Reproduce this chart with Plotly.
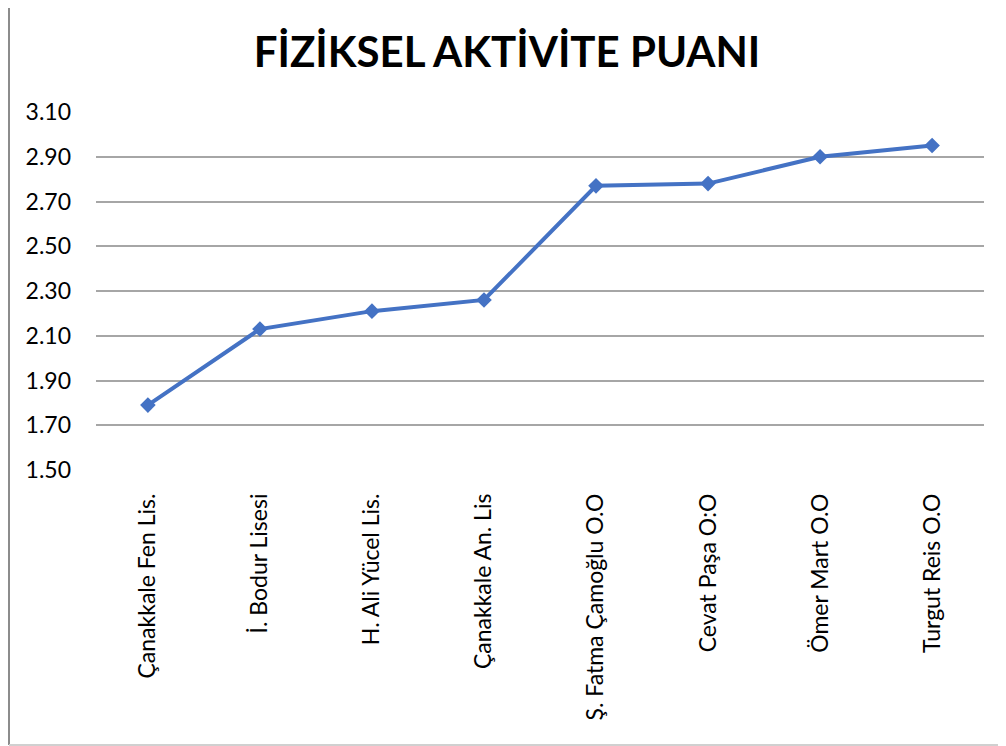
import plotly.graph_objects as go

# -------------------------------
# DATA
# -------------------------------
schools = [
    "Çanakkale Fen Lis.",
    "İ. Bodur Lisesi",
    "H. Ali Yücel Lis.",
    "Çanakkale An. Lis",
    "Ş. Fatma Çamoğlu O.O",
    "Cevat Paşa O:O",
    "Ömer Mart O.O",
    "Turgut Reis O.O",
]
scores = [1.79, 2.13, 2.21, 2.26, 2.77, 2.78, 2.90, 2.95]

y_ticks = [1.5, 1.7, 1.9, 2.1, 2.3, 2.5, 2.7, 2.9, 3.1]
y_labels = ["1.50", "1.70", "1.90", "2.10", "2.30", "2.50", "2.70", "2.90", "3.10"]

# -------------------------------
# FIGURE
# -------------------------------
fig = go.Figure()

fig.add_trace(go.Scatter(
    x=schools,
    y=scores,
    mode="lines+markers",
    line=dict(color="#4472C4", width=4),
    marker=dict(symbol="diamond", size=12, color="#4472C4"),
    showlegend=False
))

# page body has an 8px margin, so the figure is 8px smaller on each axis
W, H = 998, 738
L, R, T, B = 88, 22, 104, 276
pw, ph = W - L - R, H - T - B

fig.update_layout(
    width=W, height=H,
    margin=dict(l=L, r=R, t=T, b=B),
    paper_bgcolor="white",
    plot_bgcolor="white",
    font=dict(family="Lato", color="black", size=23),
    title=dict(
        text="<b>FİZİKSEL AKTİVİTE PUANI</b>",
        x=0.5, xanchor="center",
        y=1 - 44 / H, yanchor="middle",
        font=dict(family="Lato", size=42, color="black")
    ),
    # chart area border (left and bottom edges)
    shapes=[
        dict(type="line", xref="paper", yref="paper",
             x0=(1 - L) / pw, x1=(1 - L) / pw, y0=(1 - B) / ph, y1=(H - B) / ph,
             line=dict(color="#8c8c8c", width=2)),
        dict(type="line", xref="paper", yref="paper",
             x0=(1 - L) / pw, x1=(W - L) / pw, y0=(1 - B) / ph, y1=(1 - B) / ph,
             line=dict(color="#d0d0d0", width=2)),
    ]
)

fig.update_xaxes(
    type="category",
    tickangle=-90,
    ticks="",
    showgrid=False,
    showline=False,
    tickfont=dict(size=23),
    ticklabelstandoff=18
)

fig.update_yaxes(
    range=[1.5, 3.1],
    tickvals=y_ticks,
    ticktext=y_labels,
    showgrid=True,
    gridcolor="#a6a6a6",
    gridwidth=1.5,
    zeroline=False,
    showline=False,
    ticks="",
    ticklabelstandoff=24,
    tickfont=dict(size=23)
)

fig.write_html("out.html")
